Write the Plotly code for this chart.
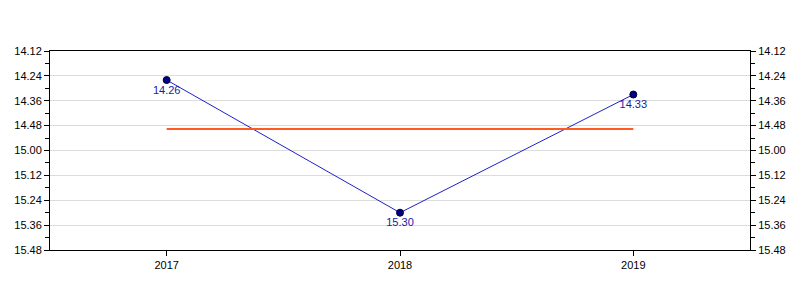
import plotly.graph_objects as go

years = ["2017", "2018", "2019"]
times = ["14.26", "15.30", "14.33"]  # minutes.seconds
tick_labels = ["14.12", "14.24", "14.36", "14.48", "15.00", "15.12", "15.24", "15.36", "15.48"]


def to_sec(s):
    m, sec = s.split(".")
    return int(m) * 60 + int(sec)


secs = [to_sec(t) for t in times]
avg = sum(secs) / len(secs)
tick_vals = [to_sec(t) for t in tick_labels]

font = "Liberation Sans, Arial, sans-serif"

fig = go.Figure()
fig.add_trace(go.Scatter(
    x=years, y=secs, mode="lines+markers+text",
    text=times, textposition="bottom center",
    textfont=dict(color="#1a1aa6", size=11, family=font),
    line=dict(color="#2020c8", width=1),
    marker=dict(color="#000080", size=7, line=dict(color="#000030", width=1)),
    showlegend=False,
))
fig.add_trace(go.Scatter(
    x=[years[0], years[-1]], y=[avg, avg], mode="lines",
    line=dict(color="#ff5a1f", width=2), hoverinfo="skip", showlegend=False,
))
# dummy trace on right axis
fig.add_trace(go.Scatter(x=years, y=secs, yaxis="y2", mode="markers",
                         marker=dict(opacity=0), hoverinfo="skip", showlegend=False))

yax = dict(
    range=[tick_vals[-1], tick_vals[0]],
    tickvals=tick_vals, ticktext=tick_labels,
    ticks="outside", ticklen=5, tickcolor="black",
    showline=True, linecolor="black", linewidth=1,
    showgrid=True, gridcolor="#dcdcdc", gridwidth=1,
    zeroline=False,
    tickfont=dict(family=font, size=11, color="black"),
    minor=dict(dtick=6, tick0=tick_vals[0], ticks="outside", ticklen=4, tickcolor="black", showgrid=False),
)
fig.update_layout(
    width=800, height=300,
    margin=dict(l=50, r=50, t=51, b=50),
    plot_bgcolor="white", paper_bgcolor="white",
    xaxis=dict(
        type="category", categoryorder="array", categoryarray=years, range=[-0.5, 2.5],
        ticks="outside", ticklen=5, tickcolor="black",
        showline=True, linecolor="black", linewidth=1, mirror=True,
        showgrid=False, zeroline=False,
        tickfont=dict(family=font, size=11, color="black"),
    ),
    yaxis=yax,
    yaxis2=dict(yax, overlaying="y", side="right"),
)
fig.write_html("out.html")
